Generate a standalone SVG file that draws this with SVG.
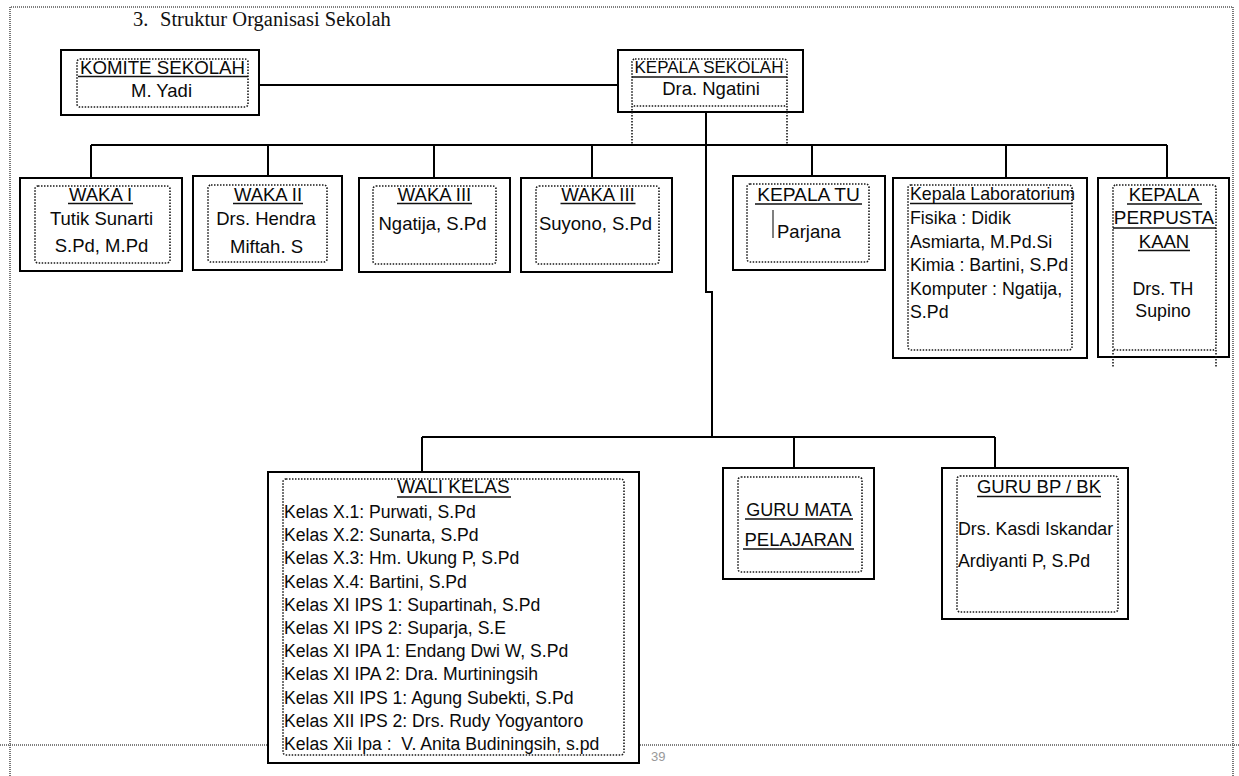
<svg xmlns="http://www.w3.org/2000/svg" width="1239" height="776" viewBox="0 0 1239 776">
<style>
.t{font-family:"Liberation Sans",Arial,sans-serif;font-size:18.5px;fill:#0a0a0a}
.c{text-anchor:middle}
.s{font-size:17.8px}
.w{font-size:17.6px}
.box{fill:#fff;stroke:#000;stroke-width:2}
.dot{fill:none;stroke:#1a1a1a;stroke-width:1.6;stroke-dasharray:1.5 1.5}
.ln{fill:none;stroke:#000;stroke-width:2}
.ul{stroke:#111;stroke-width:1.4}
.pg{fill:none;stroke:#555;stroke-width:1.6;stroke-dasharray:1 1}
</style>
<rect width="1239" height="776" fill="#fff"/>
<g id="page">
<path class="pg" d="M10 776 V7 H1233 V776"/>
<path class="pg" d="M0 745 H1239" stroke-width="2.2"/>
<text x="133" y="25.5" style="font-family:'Liberation Serif','Times New Roman',serif;font-size:20.5px;fill:#111"><tspan x="133">3.</tspan><tspan x="160">Struktur Organisasi Sekolah</tspan></text>
<text x="651" y="761" style="font-family:'Liberation Sans',Arial,sans-serif;font-size:13px;fill:#999">39</text>
</g>
<g id="connectors">
<path class="ln" d="M259 85 H618"/>
<path class="ln" d="M706 112 V292 H712 V437"/>
<path class="ln" d="M91 145 H1167"/>
<path class="ln" d="M91 145 V178 M268 145 V176 M434 145 V178 M592 145 V178 M812 145 V176 M1006 145 V178 M1167 145 V178"/>
<path class="ln" d="M422 437 H995 M422 437 V472 M794 437 V468 M995 437 V468"/>
</g>
<g id="komite">
<rect class="box" x="61" y="50" width="198" height="65"/>
<rect class="dot" x="77" y="59" width="171" height="48" rx="3"/>
<line class="ul" x1="78" y1="76.5" x2="248" y2="76.5"/>
<text class="t c" x="162.5" y="74" style="font-size:18.7px">KOMITE SEKOLAH</text>
<text class="t c" x="161.5" y="97">M. Yadi</text>
</g>
<g id="kepala-sekolah">
<rect class="box" x="618" y="50" width="185" height="62"/>
<rect class="dot" x="632" y="59" width="155" height="47" rx="3"/>
<path class="dot" d="M632 106 V145 M787 106 V145"/>
<line class="ul" x1="632" y1="77" x2="787" y2="77"/>
<text class="t c" x="709" y="73" style="font-size:17px">KEPALA SEKOLAH</text>
<text class="t c" x="711" y="95">Dra. Ngatini</text>
</g>
<g id="waka1">
<rect class="box" x="20" y="178" width="162" height="93"/>
<rect class="dot" x="35" y="186" width="135" height="77" rx="3"/>
<line class="ul" x1="68" y1="203.5" x2="133" y2="203.5"/>
<text class="t c" x="100.5" y="201">WAKA I</text>
<text class="t c" x="101.5" y="225">Tutik Sunarti</text>
<text class="t c" x="101.5" y="252">S.Pd, M.Pd</text>
</g>
<g id="waka2">
<rect class="box" x="193" y="176" width="149" height="94"/>
<rect class="dot" x="208" y="185" width="119" height="77" rx="3"/>
<line class="ul" x1="233" y1="203.5" x2="303" y2="203.5"/>
<text class="t c" x="268" y="201">WAKA II</text>
<text class="t c" x="266" y="225">Drs. Hendra</text>
<text class="t c" x="266.5" y="253">Miftah. S</text>
</g>
<g id="waka3a">
<rect class="box" x="359" y="178" width="151" height="94"/>
<rect class="dot" x="373" y="186" width="123" height="78" rx="3"/>
<line class="ul" x1="397" y1="203.5" x2="472" y2="203.5"/>
<text class="t c" x="434.5" y="201">WAKA III</text>
<text class="t c" x="432.5" y="230">Ngatija, S.Pd</text>
</g>
<g id="waka3b">
<rect class="box" x="521" y="178" width="151" height="94"/>
<rect class="dot" x="536" y="186" width="123" height="78" rx="3"/>
<line class="ul" x1="560.5" y1="203.5" x2="635.5" y2="203.5"/>
<text class="t c" x="598" y="201">WAKA III</text>
<text class="t c" x="595.5" y="230">Suyono, S.Pd</text>
</g>
<g id="kepala-tu">
<rect class="box" x="733" y="176" width="152" height="94"/>
<rect class="dot" x="747" y="184" width="122" height="78" rx="3"/>
<line class="ul" x1="755" y1="204" x2="862" y2="204"/>
<text class="t c" x="808.5" y="201" style="font-size:19.2px">KEPALA TU</text>
<line x1="773" y1="210" x2="773" y2="238" stroke="#555" stroke-width="1.5"/>
<text class="t" x="777" y="238">Parjana</text>
</g>
<g id="kepala-lab">
<rect class="box" x="893" y="178" width="194" height="180"/>
<rect class="dot" x="908" y="185" width="164" height="165" rx="3"/>
<line class="ul" x1="910" y1="203.5" x2="1072" y2="203.5"/>
<text class="t s" x="910" y="200">Kepala Laboratorium</text>
<text class="t s" x="910" y="224">Fisika : Didik</text>
<text class="t s" x="910" y="247.5">Asmiarta, M.Pd.Si</text>
<text class="t s" x="910" y="271">Kimia : Bartini, S.Pd</text>
<text class="t s" x="910" y="294.5">Komputer : Ngatija,</text>
<text class="t s" x="910" y="318">S.Pd</text>
</g>
<g id="kepala-perpustakaan">
<rect class="box" x="1098" y="178" width="131" height="179"/>
<rect class="dot" x="1113" y="185" width="103" height="165" rx="3"/>
<path class="dot" d="M1113 350 V368 M1216 350 V368"/>
<line class="ul" x1="1127" y1="204" x2="1202" y2="204"/>
<line class="ul" x1="1113" y1="228" x2="1216" y2="228"/>
<line class="ul" x1="1138" y1="250.5" x2="1190" y2="250.5"/>
<text class="t c" x="1164" y="201">KEPALA</text>
<text class="t c" x="1164" y="223.5" style="font-size:18.9px">PERPUSTA</text>
<text class="t c" x="1164" y="248">KAAN</text>
<text class="t c s" x="1163" y="295">Drs. TH</text>
<text class="t c s" x="1163" y="317">Supino</text>
</g>
<g id="wali-kelas">
<rect class="box" x="268" y="472" width="371" height="291"/>
<rect class="dot" x="283" y="479" width="341" height="276" rx="3"/>
<line class="ul" x1="397" y1="497" x2="511" y2="497"/>
<text class="t c" x="453.5" y="493" style="font-size:19px">WALI KELAS</text>
<text class="t w" x="284" y="518">Kelas X.1: Purwati, S.Pd</text>
<text class="t w" x="284" y="541.2">Kelas X.2: Sunarta, S.Pd</text>
<text class="t w" x="284" y="564.4">Kelas X.3: Hm. Ukung P, S.Pd</text>
<text class="t w" x="284" y="587.6">Kelas X.4: Bartini, S.Pd</text>
<text class="t w" x="284" y="610.8">Kelas XI IPS 1: Supartinah, S.Pd</text>
<text class="t w" x="284" y="634">Kelas XI IPS 2: Suparja, S.E</text>
<text class="t w" x="284" y="657.2">Kelas XI IPA 1: Endang Dwi W, S.Pd</text>
<text class="t w" x="284" y="680.4">Kelas XI IPA 2: Dra. Murtiningsih</text>
<text class="t w" x="284" y="703.6">Kelas XII IPS 1: Agung Subekti, S.Pd</text>
<text class="t w" x="284" y="726.8">Kelas XII IPS 2: Drs. Rudy Yogyantoro</text>
<text class="t w" x="284" y="750" style="white-space:pre">Kelas Xii Ipa :  V. Anita Budiningsih, s.pd</text>
</g>
<g id="guru-mapel">
<rect class="box" x="723" y="468" width="151" height="111"/>
<rect class="dot" x="738" y="477" width="124" height="95" rx="3"/>
<line class="ul" x1="745" y1="519" x2="853" y2="519"/>
<line class="ul" x1="743" y1="549" x2="854" y2="549"/>
<text class="t c" x="799" y="516" style="font-size:18px">GURU MATA</text>
<text class="t c" x="798.5" y="546">PELAJARAN</text>
</g>
<g id="guru-bp">
<rect class="box" x="942" y="468" width="186" height="151"/>
<rect class="dot" x="957" y="476" width="161" height="136" rx="3"/>
<line class="ul" x1="977" y1="496.5" x2="1101" y2="496.5"/>
<text class="t c" x="1039" y="493">GURU BP / BK</text>
<text class="t s" x="958" y="535">Drs. Kasdi Iskandar</text>
<text class="t s" x="958" y="567">Ardiyanti P, S.Pd</text>
</g>
</svg>
